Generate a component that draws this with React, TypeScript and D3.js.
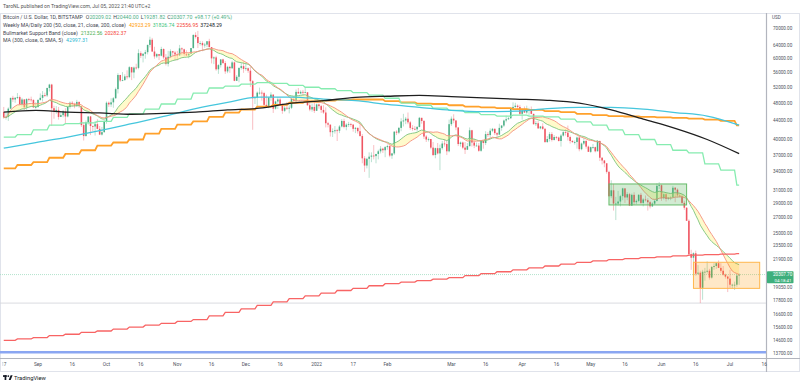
import React from "react";
import * as d3 from "d3";

const WIDTH = 800;
const HEIGHT = 386;
const PLOT_RIGHT = 766;
const PLOT_TOP = 13;
const PLOT_BOTTOM = 358;
const FONT = "Roboto, 'Liberation Sans', Arial, sans-serif";

// daily candles, BTCUSD (thousands of USD), from 2021-08-17 to 2022-07-05
const firstDay = "2021-08-17";
const firstOpen = 45.9;
const closes = [
  44.7, 44.8, 46.7, 49.3, 48.9, 49.3, 49.5, 47.7, 48.9, 47.0, 49.0, 48.9, 48.8, 47.0, 47.1, // aug
  48.8, 49.3, 50.0, 49.9, 51.8, 52.7, 46.8, 46.1, 46.4, 44.8, 45.2, 46.1, 44.9, 47.1, 48.1, 47.8, 47.3, 48.3, 47.3, 43.0, 40.7, 43.6, 44.9, 42.8, 42.7, 43.2, 42.2, 41.0, 41.5, 43.8, // sep
  48.1, 47.7, 48.2, 49.2, 51.5, 55.3, 53.8, 53.9, 54.9, 54.7, 57.5, 56.0, 57.4, 57.3, 61.7, 60.9, 61.5, 62.0, 64.3, 66.0, 62.2, 60.7, 61.4, 60.9, 63.0, 60.4, 58.5, 60.6, 62.3, 61.9, 61.3, // oct
  61.0, 63.2, 62.9, 61.4, 61.0, 61.5, 63.3, 67.6, 66.9, 64.9, 64.9, 64.2, 64.4, 65.5, 63.6, 60.1, 60.4, 56.9, 58.1, 59.8, 58.7, 56.3, 57.6, 57.2, 58.9, 53.7, 54.8, 57.3, 57.8, 57.0, // nov
  57.2, 56.5, 53.6, 49.2, 49.4, 50.6, 50.6, 50.5, 47.6, 47.1, 49.4, 50.1, 46.7, 48.4, 48.9, 47.6, 46.2, 46.9, 46.7, 46.9, 49.0, 48.6, 50.8, 50.4, 50.8, 50.7, 50.7, 47.5, 46.5, 47.1, 46.2, // dec
  47.7, 47.3, 46.4, 45.8, 43.4, 43.1, 41.5, 41.7, 41.9, 41.8, 42.7, 43.9, 42.6, 43.1, 43.2, 43.1, 42.2, 42.4, 41.7, 40.7, 36.4, 35.1, 36.3, 36.7, 36.9, 36.8, 37.2, 37.7, 38.2, 37.9, 38.5, // jan
  38.7, 36.9, 37.3, 41.6, 41.4, 42.4, 43.8, 44.0, 44.4, 43.6, 42.4, 42.2, 42.1, 42.6, 44.6, 43.9, 40.6, 40.0, 40.1, 38.4, 37.0, 38.3, 37.3, 38.3, 39.2, 39.1, 37.7, 43.2, // feb
  44.4, 44.0, 42.5, 39.1, 39.4, 38.4, 38.0, 38.7, 41.9, 39.4, 38.8, 38.8, 37.8, 39.7, 39.3, 41.1, 40.9, 41.8, 42.2, 41.3, 41.0, 42.4, 42.9, 44.0, 44.3, 44.5, 46.8, 47.1, 47.4, 47.1, 45.5, // mar
  46.3, 45.8, 46.4, 46.6, 45.5, 43.2, 43.4, 42.3, 42.7, 42.2, 39.5, 40.1, 41.1, 39.9, 40.5, 40.4, 39.7, 40.8, 41.5, 41.4, 40.5, 39.7, 39.5, 39.5, 40.4, 38.1, 39.2, 39.7, 38.6, 37.6, // apr
  38.5, 38.5, 37.7, 39.7, 36.5, 36.0, 35.5, 34.0, 30.1, 31.0, 29.0, 29.0, 29.3, 30.1, 31.3, 29.9, 30.4, 28.7, 30.3, 29.2, 29.4, 30.3, 29.1, 29.6, 29.5, 29.2, 28.6, 29.0, 29.4, 31.7, 31.8, // may
  29.8, 30.4, 29.7, 29.9, 29.9, 31.4, 31.1, 30.2, 30.1, 29.1, 28.4, 26.6, 22.5, 22.1, 22.6, 20.4, 20.5, 19.0, 20.6, 20.6, 20.7, 20.0, 21.1, 21.2, 21.5, 21.0, 20.7, 20.3, 20.1, 19.9, // jun
  19.3, 19.3, 19.3, 20.209, 20.3077, // jul
];
const highs = [
  47.1, 46.0, 47.0, 49.3, 49.8, 49.5, 50.5, 49.9, 49.3, 49.0, 49.2, 49.3, 49.6, 48.9, 48.2,
  48.9, 50.4, 51.0, 50.6, 51.9, 52.9, 52.9, 47.4, 47.3, 47.1, 45.9, 46.4, 46.8, 47.2, 48.4, 48.5, 48.1, 48.8, 48.4, 47.3, 43.6, 44.0, 44.9, 45.0, 42.9, 43.9, 44.3, 42.8, 42.6, 44.1,
  48.4, 48.4, 49.2, 49.5, 51.9, 55.8, 55.3, 56.1, 55.5, 56.6, 57.8, 57.6, 57.7, 58.5, 62.9, 62.3, 61.7, 62.7, 64.4, 67.0, 66.6, 63.7, 61.7, 61.4, 63.7, 63.2, 61.4, 62.4, 62.9, 62.4, 62.4,
  62.4, 64.3, 63.5, 63.1, 62.6, 61.6, 63.3, 67.8, 68.5, 69.0, 65.6, 65.5, 65.0, 65.3, 66.3, 63.6, 60.7, 60.9, 58.4, 59.8, 60.0, 59.3, 57.9, 57.9, 59.4, 59.2, 55.3, 57.4, 58.8, 59.2,
  59.0, 57.4, 57.6, 53.9, 49.7, 50.9, 51.9, 51.2, 50.8, 50.1, 49.5, 50.7, 50.2, 48.6, 49.5, 49.4, 47.9, 47.3, 48.3, 47.5, 49.3, 49.6, 51.4, 51.8, 51.2, 51.3, 52.0, 50.7, 48.1, 47.9, 48.5,
  47.9, 47.9, 47.6, 47.5, 47.0, 43.7, 43.1, 42.3, 42.8, 42.2, 43.0, 44.3, 44.4, 43.4, 43.7, 43.5, 43.2, 42.6, 42.5, 43.5, 41.1, 36.8, 36.5, 37.5, 37.5, 38.9, 37.2, 38.0, 38.7, 38.4, 38.7,
  39.0, 38.9, 37.4, 41.7, 41.9, 42.6, 44.5, 45.5, 44.8, 45.8, 43.9, 43.0, 42.8, 42.8, 44.8, 44.6, 44.1, 40.9, 40.4, 40.1, 39.5, 38.4, 39.3, 39.0, 39.7, 40.1, 39.8, 44.2,
  44.9, 45.4, 44.1, 42.5, 39.6, 39.6, 39.5, 39.3, 42.5, 42.0, 40.2, 39.4, 39.3, 39.9, 39.9, 41.7, 41.5, 42.3, 42.4, 42.3, 41.5, 43.3, 43.0, 44.2, 45.1, 44.8, 46.9, 48.2, 48.1, 47.7, 47.6,
  46.7, 47.2, 47.4, 46.9, 47.2, 45.5, 43.9, 43.9, 42.8, 43.4, 42.4, 40.7, 41.5, 41.5, 40.9, 40.7, 40.6, 41.1, 41.7, 42.2, 42.9, 40.8, 39.9, 39.8, 40.6, 40.8, 39.4, 40.3, 39.9, 38.8,
  38.6, 39.1, 38.6, 39.9, 39.8, 36.6, 36.1, 35.5, 34.2, 32.6, 32.0, 30.0, 30.9, 30.3, 31.4, 31.3, 30.7, 30.6, 30.5, 30.7, 29.6, 30.4, 30.6, 29.8, 30.2, 29.8, 29.4, 29.2, 29.6, 32.1, 32.3,
  31.9, 30.6, 30.6, 29.9, 30.1, 31.7, 31.5, 31.3, 30.6, 30.3, 29.4, 28.5, 26.8, 23.0, 22.7, 22.9, 21.3, 20.7, 20.8, 21.0, 21.7, 20.9, 21.2, 21.5, 21.6, 21.8, 21.5, 21.2, 20.4, 20.2,
  20.8, 19.4, 19.6, 20.4, 20.44,
];
const lows = [
  44.4, 44.2, 43.9, 46.6, 48.3, 48.1, 49.0, 47.6, 47.2, 46.4, 46.4, 48.4, 48.3, 46.9, 46.7,
  46.9, 48.6, 48.4, 49.5, 49.5, 50.9, 42.8, 44.4, 45.5, 44.2, 44.8, 44.7, 43.4, 44.7, 46.7, 47.1, 46.8, 47.1, 46.9, 42.6, 39.8, 40.6, 43.1, 40.9, 41.7, 40.8, 42.1, 40.9, 40.8, 41.4,
  43.3, 47.1, 47.1, 46.9, 49.1, 50.4, 53.4, 53.6, 53.7, 54.1, 54.4, 53.9, 54.4, 56.8, 56.9, 60.2, 58.9, 60.0, 61.3, 63.5, 62.1, 60.0, 60.2, 59.6, 60.7, 59.9, 58.0, 57.7, 60.2, 60.8, 59.5,
  59.5, 60.8, 61.0, 60.7, 60.8, 60.1, 61.4, 63.1, 66.4, 63.3, 64.1, 62.3, 63.4, 63.6, 63.5, 58.6, 58.4, 56.5, 55.6, 57.4, 58.5, 55.6, 55.8, 55.9, 57.0, 53.6, 53.7, 53.3, 56.8, 55.9,
  56.5, 55.9, 52.1, 42.0, 47.8, 47.1, 50.1, 48.6, 47.3, 47.0, 46.8, 48.6, 45.7, 46.5, 46.6, 47.5, 45.5, 45.9, 46.4, 45.6, 46.6, 48.4, 48.0, 50.4, 50.2, 49.9, 50.5, 47.4, 46.1, 46.0, 45.7,
  46.2, 46.7, 45.7, 45.5, 42.5, 42.5, 40.6, 40.5, 41.2, 39.7, 41.3, 42.5, 42.3, 41.9, 42.6, 42.6, 41.6, 41.3, 41.2, 40.6, 35.5, 34.0, 34.6, 33.0, 35.7, 36.2, 35.5, 36.2, 37.3, 37.4, 36.6,
  38.0, 36.6, 36.3, 37.0, 40.9, 41.1, 41.7, 42.7, 43.2, 43.2, 42.0, 41.8, 41.9, 41.6, 42.5, 43.3, 40.1, 39.5, 39.6, 38.1, 36.8, 36.4, 37.1, 34.3, 38.0, 38.6, 37.0, 37.5,
  42.8, 43.4, 41.9, 38.7, 38.6, 38.1, 37.2, 38.0, 38.6, 38.6, 38.3, 38.7, 37.6, 37.6, 38.2, 38.9, 40.5, 40.2, 41.5, 40.9, 40.5, 40.9, 41.8, 42.6, 43.6, 44.1, 44.4, 46.6, 46.9, 46.5, 45.2,
  44.2, 45.7, 45.5, 45.1, 45.4, 43.1, 42.8, 42.2, 42.1, 42.0, 39.3, 39.3, 39.6, 39.6, 39.8, 40.0, 39.6, 38.6, 40.6, 40.8, 39.8, 39.2, 39.3, 39.0, 38.2, 37.7, 37.9, 38.9, 38.2, 37.6,
  37.4, 38.1, 37.5, 37.7, 35.9, 35.3, 34.8, 33.7, 30.0, 29.8, 28.0, 26.7, 28.7, 28.6, 29.5, 29.1, 29.5, 28.7, 28.7, 28.8, 28.9, 29.2, 28.9, 28.6, 29.3, 28.0, 28.3, 28.5, 28.8, 29.3, 31.2,
  29.4, 29.6, 29.3, 29.5, 29.5, 29.9, 29.2, 29.9, 29.9, 28.9, 28.1, 26.6, 22.3, 20.8, 20.1, 20.2, 20.3, 17.6, 17.9, 19.7, 20.4, 19.8, 19.9, 20.8, 20.9, 21.0, 20.5, 20.2, 19.9, 18.6,
  19.0, 18.9, 18.8, 19.1, 19.28,
];

// weekly moving averages (one value per week, weeks starting 2021-08-16)
const weekStart = "2021-08-16";
const weeklyMa50 = [
  34.6, 35.2, 35.7, 36.5, 37.2, 37.9, 38.8, 39.4, 40.0, 41.2, 42.2, 43.1, 43.8, 44.8, 45.8, 46.5,
  47.2, 47.6, 48.1, 48.4, 48.6, 48.8, 48.9, 48.9, 48.5, 48.2, 47.9, 47.8, 47.5, 47.2, 47.0, 46.8,
  46.6, 46.4, 46.1, 45.9, 45.5, 45.2, 45.0, 44.9, 44.8, 44.7, 44.6, 44.4, 44.2, 43.9, 42.92,
];
const weeklyMa21 = [
  40.5, 41.0, 42.0, 43.0, 43.3, 43.5, 43.8, 44.7, 45.5, 46.6, 47.8, 49.0, 50.5, 51.8, 52.3, 52.8,
  53.2, 53.0, 52.5, 52.0, 51.6, 51.1, 50.6, 50.0, 49.2, 48.0, 47.5, 46.8, 46.3, 45.8, 45.3, 45.0,
  45.2, 45.0, 44.8, 44.3, 43.7, 43.0, 42.0, 41.0, 40.0, 39.0, 37.9, 37.4, 35.4, 34.3, 31.83,
];
const weeklyMa200 = [
  14.6, 14.7, 14.8, 14.95, 15.05, 15.2, 15.3, 15.45, 15.6, 15.75, 15.9, 16.05, 16.2, 16.5, 16.8, 17.1,
  17.4, 17.7, 18.0, 18.25, 18.5, 18.75, 18.95, 19.2, 19.4, 19.55, 19.7, 19.85, 20.0, 20.2, 20.4, 20.6,
  20.8, 21.0, 21.2, 21.4, 21.6, 21.75, 21.9, 22.0, 22.1, 22.2, 22.3, 22.4, 22.45, 22.5, 22.56,
];

// long daily averages, read every two weeks
const maDates = [
  "2021-08-17", "2021-08-31", "2021-09-14", "2021-09-28", "2021-10-12", "2021-10-26", "2021-11-09", "2021-11-23",
  "2021-12-07", "2021-12-21", "2022-01-04", "2022-01-18", "2022-02-01", "2022-02-15", "2022-03-01", "2022-03-15",
  "2022-03-29", "2022-04-12", "2022-04-26", "2022-05-10", "2022-05-24", "2022-06-07", "2022-06-21", "2022-07-05",
];
const dailyMa200 = [
  45.9, 46.3, 45.9, 45.7, 45.4, 45.6, 45.9, 46.4, 46.8, 48.0, 48.6, 49.4,
  49.7, 49.9, 49.6, 49.3, 49.0, 48.7, 48.0, 46.4, 44.3, 42.3, 40.0, 37.25,
];
const ma300 = [
  38.3, 39.4, 40.5, 41.8, 43.3, 44.9, 46.7, 48.2, 49.5, 49.5, 49.0, 48.6,
  47.7, 47.0, 46.3, 46.0, 46.1, 46.7, 47.0, 47.0, 46.6, 45.8, 45.0, 43.0,
];

// drawings
const rangeBox = { from: "2022-05-09", to: "2022-06-12", top: 32.0, bottom: 28.8 };
const bottomBox = { from: "2022-06-15", to: "2022-07-14", top: 21.6, bottom: 18.95 };
const supportLevel = 17.6;
const baseLevel = 13.75;

const priceTicks = [
  70000, 64000, 60000, 56000, 52000, 48000, 44000, 40000, 37000, 34000, 31000,
  29000, 27000, 25000, 23500, 21900, 19050, 17800, 16600, 15600, 14600, 13700,
];
const timeTickDates = [
  "2021-08-17", "2021-09-01", "2021-09-16", "2021-10-01", "2021-10-16", "2021-11-01", "2021-11-16",
  "2021-12-01", "2021-12-16", "2022-01-01", "2022-01-17", "2022-02-01", "2022-03-01", "2022-03-16",
  "2022-04-01", "2022-04-16", "2022-05-01", "2022-05-16", "2022-06-01", "2022-06-16", "2022-07-01", "2022-07-16",
];
const timeTickLabels = [
  "17", "Sep", "16", "Oct", "16", "Nov", "16", "Dec", "16", "2022", "17", "Feb", "Mar", "16",
  "Apr", "16", "May", "16", "Jun", "16", "Jul", "16",
];

const ohlcLegend = ["20209.02", "20440.00", "19281.82", "20307.70", "+98.17 (+0.49%)"];
const weeklyLegend = ["42923.29", "31826.74", "22556.95", "37248.29"];
const bandLegend = ["21322.56", "20282.37"];
const maLegend = ["42997.31"];
const lastPrice = 20307.7;
const countdown = "04:18:41";

const UP = "#4caf86";
const DOWN = "#ef5562";

export default function App() {
  const parse = d3.utcParse("%Y-%m-%d");
  const day0 = parse(firstDay) as Date;
  const week0 = parse(weekStart) as Date;
  const days = closes.map((_, i) => d3.utcDay.offset(day0, i));
  const k = (v: number) => v * 1000;

  const x = d3
    .scaleUtc()
    .domain([parse("2021-09-01") as Date, parse("2022-07-01") as Date])
    .range([38, 730]);
  const y = d3.scaleLog().domain([13700, 70000]).range([353, 28]);

  const step = x(d3.utcDay.offset(day0, 1)) - x(day0);
  const bodyW = step * 0.68;

  const candles = closes.map((c, i) => {
    const o = i === 0 ? firstOpen : closes[i - 1];
    return {
      date: days[i],
      o: k(o),
      c: k(c),
      h: k(Math.max(highs[i], o, c)),
      l: k(Math.min(lows[i], o, c)),
    };
  });

  // bull market support band: 20 SMA and 21 EMA of the daily close
  const sma20 = closes.map((_, i) => k(d3.mean(closes.slice(Math.max(0, i - 19), i + 1)) as number));
  const ema21: number[] = [];
  closes.forEach((c, i) => {
    ema21.push(i === 0 ? k(c) : ema21[i - 1] + (2 / 22) * (k(c) - ema21[i - 1]));
  });

  const dailyLine = d3
    .line<number>()
    .x((_, i) => x(days[i]))
    .y((v) => y(v));
  const bandArea = d3
    .area<number>()
    .x((_, i) => x(days[i]))
    .y0((_, i) => y(sma20[i]))
    .y1((_, i) => y(ema21[i]));

  const weekly = (vals: number[]) =>
    days.map((d) => k(vals[Math.min(vals.length - 1, Math.floor(d3.utcDay.count(week0, d) / 7))]));

  const maX = maDates.map((d) => x(parse(d) as Date));
  const smoothLine = (vals: number[]) =>
    d3
      .line<number>()
      .x((_, i) => maX[i])
      .y((v) => y(k(v)))
      .curve(d3.curveMonotoneX)(vals) as string;

  const boxRect = (b: typeof rangeBox) => ({
    x: x(parse(b.from) as Date),
    y: y(k(b.top)),
    w: x(parse(b.to) as Date) - x(parse(b.from) as Date),
    h: y(k(b.bottom)) - y(k(b.top)),
  });
  const rb = boxRect(rangeBox);
  const bb = boxRect(bottomBox);

  const lastY = y(lastPrice);
  const txt = "#434651";

  return (
    <svg
      width={WIDTH}
      height={HEIGHT}
      style={{ position: "absolute", left: 0, top: 0, background: "#fff" }}
      fontFamily={FONT}
    >
      <defs>
        <clipPath id="plot">
          <rect x={0} y={PLOT_TOP} width={PLOT_RIGHT} height={PLOT_BOTTOM - PLOT_TOP} />
        </clipPath>
        <clipPath id="timeaxis">
          <rect x={2.6} y={PLOT_BOTTOM} width={PLOT_RIGHT + 4} height={14} />
        </clipPath>
      </defs>

      <text x={3} y={7.8} fontSize={5.1} fill="#555">
        TaroNL published on TradingView.com, Jul 05, 2022 21:40 UTC+2
      </text>

      {/* frame */}
      <rect x={0.5} y={PLOT_TOP + 0.5} width={WIDTH - 1} height={371 - PLOT_TOP} fill="none" stroke="#e0e3eb" />
      <line x1={PLOT_RIGHT + 0.5} x2={PLOT_RIGHT + 0.5} y1={PLOT_TOP} y2={372} stroke="#b2b5be" strokeWidth={1.2} />
      <line x1={0} x2={WIDTH} y1={PLOT_BOTTOM + 0.5} y2={PLOT_BOTTOM + 0.5} stroke="#b2b5be" strokeWidth={1.2} />

      <g clipPath="url(#plot)">
        {/* horizontal levels */}
        <line x1={0} x2={PLOT_RIGHT} y1={y(k(supportLevel))} y2={y(k(supportLevel))} stroke="#d6d8de" strokeWidth={0.9} />
        <line x1={0} x2={PLOT_RIGHT} y1={y(k(baseLevel))} y2={y(k(baseLevel))} stroke="#8aa6f2" strokeWidth={2.4} />
        <line x1={0} x2={PLOT_RIGHT} y1={lastY} y2={lastY} stroke="#9fdcc0" strokeWidth={0.8} strokeDasharray="1 1" />

        {/* candles */}
        {candles.map((d, i) => {
          const cx = x(d.date);
          const col = d.c >= d.o ? UP : DOWN;
          const top = y(Math.max(d.o, d.c));
          const bot = y(Math.min(d.o, d.c));
          return (
            <g key={i}>
              <line x1={cx} x2={cx} y1={y(d.h)} y2={y(d.l)} stroke={col} strokeOpacity={0.55} strokeWidth={0.7} />
              <rect x={cx - bodyW / 2} y={top} width={bodyW} height={Math.max(0.8, bot - top)} fill={col} />
            </g>
          );
        })}

        {/* bull market support band */}
        <path d={bandArea(sma20) as string} fill="#fff176" fillOpacity={0.38} />
        <path d={dailyLine(ema21) as string} fill="none" stroke="#7cc47f" strokeWidth={0.9} />
        <path d={dailyLine(sma20) as string} fill="none" stroke="#f4907f" strokeWidth={0.9} />

        {/* weekly MAs */}
        <path d={dailyLine(weekly(weeklyMa200)) as string} fill="none" stroke="#f86464" strokeWidth={1.3} />
        <path d={dailyLine(weekly(weeklyMa50)) as string} fill="none" stroke="#ffa12b" strokeWidth={1.8} />
        <path d={dailyLine(weekly(weeklyMa21)) as string} fill="none" stroke="#86ecb0" strokeWidth={1.3} />

        {/* daily 200 and 300 MAs */}
        <path d={smoothLine(ma300)} fill="none" stroke="#45c6dd" strokeWidth={1.3} />
        <path d={smoothLine(dailyMa200)} fill="none" stroke="#1e1e1e" strokeWidth={1.3} />

        {/* boxes */}
        <rect x={rb.x} y={rb.y} width={rb.w} height={rb.h} fill="#4caf50" fillOpacity={0.25} stroke="#66bb6a" strokeWidth={1} />
        <rect x={bb.x} y={bb.y} width={bb.w} height={bb.h} fill="#ff9800" fillOpacity={0.22} stroke="#ffb74d" strokeWidth={1} />
      </g>

      {/* legend */}
      <g fontSize={5.2}>
        <text x={3} y={19.3} fill={txt}>
          Bitcoin / U.S. Dollar, 1D, BITSTAMP
          <tspan dx={3}>O</tspan>
          <tspan fill={UP}>{ohlcLegend[0]}</tspan>
          <tspan dx={2}>H</tspan>
          <tspan fill={UP}>{ohlcLegend[1]}</tspan>
          <tspan dx={2}>L</tspan>
          <tspan fill={UP}>{ohlcLegend[2]}</tspan>
          <tspan dx={2}>C</tspan>
          <tspan fill={UP}>{ohlcLegend[3]}</tspan>
          <tspan dx={2} fill={UP}>{ohlcLegend[4]}</tspan>
        </text>
        <text x={3} y={26.8} fill={txt}>
          Weekly MA/Daily 200 (50, close, 21, close, 200, close)
          <tspan dx={3} fill="#ff9800">{weeklyLegend[0]}</tspan>
          <tspan dx={2} fill="#3cc47c">{weeklyLegend[1]}</tspan>
          <tspan dx={2} fill="#f44336">{weeklyLegend[2]}</tspan>
          <tspan dx={2} fill="#131722">{weeklyLegend[3]}</tspan>
        </text>
        <text x={3} y={35} fill={txt}>
          Bullmarket Support Band (close)
          <tspan dx={3} fill="#4caf50">{bandLegend[0]}</tspan>
          <tspan dx={2} fill="#f44336">{bandLegend[1]}</tspan>
        </text>
        <text x={3} y={42.3} fill={txt}>
          MA (300, close, 0, SMA, 5)
          <tspan dx={3} fill="#26b5d0">{maLegend[0]}</tspan>
        </text>
      </g>

      {/* price axis */}
      <g fontSize={4.6} fill="#4c525e">
        <text x={772} y={18.5}>USD</text>
        {priceTicks.map((t) => (
          <text key={t} x={773} y={y(t) + 1.6}>
            {d3.format(".2f")(t)}
          </text>
        ))}
      </g>
      <rect x={PLOT_RIGHT + 1} y={lastY - 3.3} width={26.5} height={12} fill="#3daf7c" rx={0.8} />
      <text x={773} y={lastY + 1.6} fontSize={4.6} fill="#fff">
        {d3.format(".2f")(lastPrice)}
      </text>
      <text x={774.5} y={lastY + 7} fontSize={4.4} fill="#fff">
        {countdown}
      </text>

      {/* time axis */}
      <g fontSize={4.8} fill="#4c525e" textAnchor="middle" clipPath="url(#timeaxis)">
        {timeTickDates.map((d, i) => (
          <text key={d} x={x(parse(d) as Date)} y={365.8}>
            {timeTickLabels[i]}
          </text>
        ))}
      </g>

      {/* TradingView logo */}
      <g fill="#131722">
        <rect x={3} y={375.2} width={3.8} height={1.7} />
        <rect x={4.6} y={375.2} width={1.7} height={4.8} />
        <circle cx={8.3} cy={376.1} r={0.9} />
        <polygon points="8.7,380 10.6,375.2 12.6,375.2 10.7,380" />
      </g>
      <text x={14} y={379.8} fontSize={5.8} fill="#131722">
        TradingView
      </text>
    </svg>
  );
}
